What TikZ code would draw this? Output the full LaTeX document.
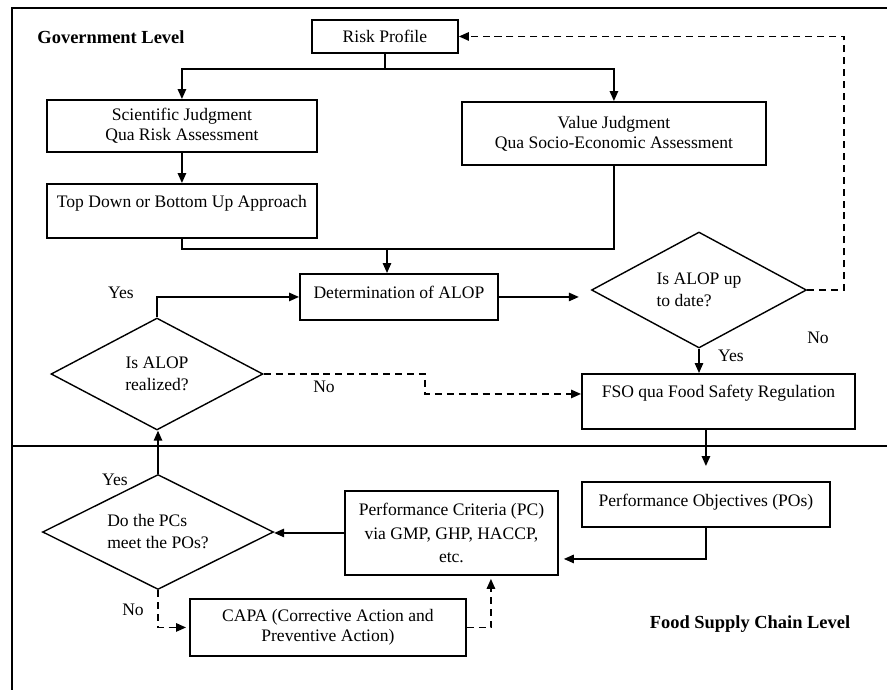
\documentclass[tikz,border=0pt]{standalone}
\usepackage{fontspec}
\setmainfont{Liberation Serif}
\usepackage{tikz}
\usetikzlibrary{shapes.geometric, arrows.meta, positioning, calc}
\tikzset{
	box/.style={rectangle, draw=black, line width=1.1pt, align=center, inner sep=0pt, anchor=north west},
	topbox/.style={box, text height=7pt, text depth=#1},
	decision/.style={diamond, draw=black, line width=0.8pt, inner sep=0pt, aspect=2, font=\fontsize{10}{12.5}\selectfont},
	flowarrow/.style={-{Triangle[length=2mm, width=1.7mm]}, line width=0.8pt},
	dasharrow/.style={flowarrow, dash pattern=on 4pt off 2.8pt},
	lbl/.style={inner sep=0pt},
	level/.style={inner sep=0pt, font=\fontsize{10.5}{12}\selectfont\bfseries},
}
\begin{document}
\begin{tikzpicture}[x=0.02cm, y=-0.02cm, font=\fontsize{10}{11.5}\selectfont]
	\useasboundingbox (0,0) rectangle (887,690);
	% frame and level divider
	\draw[line width=1.2pt] (12,690) -- (12,8) -- (887,8);
	\draw[line width=1.1pt] (12,446) -- (887,446);
	\node[level] (gov) at (111,37) {Government Level};
	\node[level] (fsc) at (750,624) {Food Supply Chain Level};

	% government level
	\node[box, minimum width=2.92cm, minimum height=0.66cm] (risk) at (311,19) {Risk Profile};
	\node[box, minimum width=5.4cm, minimum height=1.04cm] (sci) at (46,99) {Scientific Judgment\\Qua Risk Assessment};
	\node[topbox=11.5pt, minimum width=5.4cm, minimum height=1.08cm] (topdown) at (46,183) {Top Down or Bottom Up Approach};
	\node[box, minimum width=6.08cm, minimum height=1.26cm] (value) at (461,101) {Value Judgment\\Qua Socio-Economic Assessment};
	\node[topbox=5pt, minimum width=3.96cm, minimum height=0.92cm] (alop) at (299,273) {Determination of ALOP};
	\node[decision, align=left, minimum width=4.3cm, minimum height=2.32cm] (uptodate) at (699,290) {Is ALOP up\\to date?};
	\node[topbox=11pt, minimum width=5.46cm, minimum height=1.1cm] (fso) at (581,373) {FSO qua Food Safety Regulation};
	\node[decision, align=center, minimum width=4.24cm, minimum height=2.24cm] (realized) at (157,374) {Is ALOP\\realized?};

	% food supply chain level
	\node[topbox=5pt, minimum width=4.96cm, minimum height=0.9cm] (pos) at (581,481) {Performance Objectives (POs)};
	\node[box, minimum width=4.26cm, minimum height=1.68cm, font=\fontsize{10}{13.5}\selectfont] (pc) at (344,490) {Performance Criteria (PC)\\via GMP, GHP, HACCP,\\etc.};
	\node[decision, align=left, minimum width=4.62cm, minimum height=2.3cm] (meet) at (158,532) {Do the PCs\\meet the POs?};
	\node[box, minimum width=5.52cm, minimum height=1.14cm] (capa) at (189,598) {CAPA (Corrective Action and\\Preventive Action)};

	% connectors
	\draw[flowarrow] (risk.south) -- ++(0,15) -| (sci.north);
	\draw[flowarrow] (risk.south) -- ++(0,15) -| (value.north);
	\draw[flowarrow] (sci.south) -- (topdown.north);
	\coordinate (merge) at (387,249);
	\draw[line width=0.8pt] (topdown.south) |- (merge) -| (value.south);
	\draw[flowarrow] (merge) -- (merge |- alop.north);
	\draw[flowarrow, shorten >=0.24cm] (alop.east) -- (alop.east -| uptodate.west);
	\draw[dasharrow] (uptodate.east) -- ++(37,0) |- (risk.east);
	\draw[flowarrow] (uptodate.south) -- (uptodate.south |- fso.north);
	\node[lbl] (yes2) at (731,356) {Yes};
	\node[lbl] (no2) at (818,338) {No};
	\draw[flowarrow] (realized.north) |- (alop.west);
	\node[lbl] (yes1) at (121,293) {Yes};
	\draw[dasharrow] (realized.east) -- (425,374) |- ([yshift=0.15cm]fso.west);
	\node[lbl] (no1) at (324,387) {No};
	\draw[flowarrow, shorten >=0.3cm] (pos.north |- fso.south) -- (pos.north);
	\draw[flowarrow, shorten >=0.1cm] (pos.south) |- ([yshift=-0.52cm]pc.east);
	\draw[flowarrow] (pc.west) -- (pc.west -| meet.east);
	\draw[flowarrow] (meet.north) -- (meet.north |- realized.south);
	\node[lbl] (yes3) at (115,480) {Yes};
	\draw[dasharrow, shorten >=0.06cm] (meet.south) |- (capa.west);
	\node[lbl] (no3) at (133,610) {No};
	\draw[dasharrow, shorten >=0.06cm] (capa.east) -| ([xshift=0.79cm]pc.south);
\end{tikzpicture}
\end{document}
